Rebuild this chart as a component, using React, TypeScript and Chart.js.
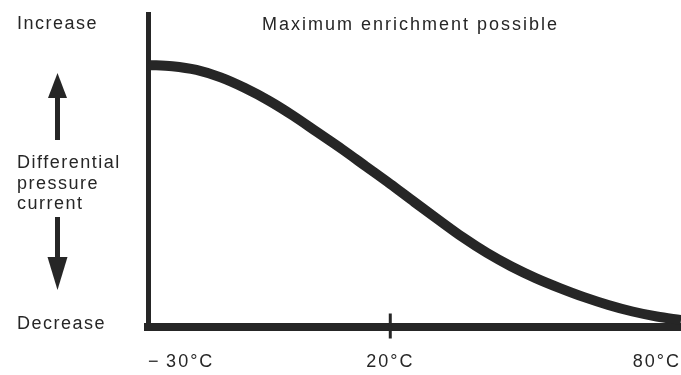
import React, { useEffect, useRef } from 'react';
import { Chart, registerables } from 'chart.js';

Chart.register(...registerables);

// ---- data ----
const temperatures = [-30, -25, -20, -15, -10, -5, 0, 5, 10, 15, 20, 25, 30, 35, 40, 45, 50, 55, 60, 65, 70, 75, 80];
const pressureCurrent = [83.7, 83.3, 82.1, 79.7, 76.3, 72.2, 67.4, 62.1, 56.8, 51.2, 45.6, 39.8, 34.1, 28.5, 23.5, 19.2, 15.5, 12.3, 9.4, 6.9, 4.8, 3.2, 2.1];
const tickValues = [-30, 20, 80];
const tickLabels = ['\u2212\u200930°C', '20°C', '80°C'];
const markedTicks = [20];
const titleText = 'Maximum enrichment possible';
const topLabel = 'Increase';
const middleLabel = ['Differential', 'pressure', 'current'];
const bottomLabel = 'Decrease';

const INK = '#262626';
const FONT = '"Liberation Sans", Arial, Helvetica, sans-serif';

function drawArrow(ctx: CanvasRenderingContext2D, cx: number, tail: number, base: number, tip: number, headW: number, shaftW: number) {
  ctx.lineWidth = shaftW;
  ctx.lineCap = 'butt';
  ctx.beginPath();
  ctx.moveTo(cx, tail);
  ctx.lineTo(cx, base);
  ctx.stroke();
  ctx.beginPath();
  ctx.moveTo(cx - headW / 2, base);
  ctx.lineTo(cx + headW / 2, base);
  ctx.lineTo(cx, tip);
  ctx.closePath();
  ctx.fill();
}

const diagramPlugin = {
  id: 'diagram',
  beforeDraw(chart: any) {
    chart.ctx.letterSpacing = '2px';
  },
  afterDraw(chart: any) {
    const { ctx, scales, chartArea } = chart;
    const x = scales.x;
    ctx.save();
    ctx.fillStyle = INK;
    ctx.strokeStyle = INK;
    ctx.lineWidth = 3;
    markedTicks.forEach((v) => {
      const px = x.getPixelForValue(v);
      ctx.beginPath();
      ctx.moveTo(px, chartArea.bottom - 13);
      ctx.lineTo(px, chartArea.bottom + 12);
      ctx.stroke();
    });
    ctx.font = `18px ${FONT}`;
    ctx.textBaseline = 'alphabetic';
    ctx.textAlign = 'left';
    ctx.letterSpacing = '2px';
    ctx.fillText(titleText, 262, 30);
    ctx.letterSpacing = '1.5px';
    ctx.fillText(topLabel, 17, 29);
    middleLabel.forEach((t, i) => ctx.fillText(t, 17, 168 + i * 20.5));
    ctx.fillText(bottomLabel, 17, 329);
    drawArrow(ctx, 57.5, 140, 98, 73, 19, 5);
    drawArrow(ctx, 57.5, 217, 257, 290, 20, 5);
    ctx.restore();
  },
};

export default function App() {
  const canvasRef = useRef<HTMLCanvasElement | null>(null);

  useEffect(() => {
    if (!canvasRef.current) return;
    const chart = new Chart(canvasRef.current, {
      type: 'line',
      data: {
        datasets: [
          {
            data: temperatures.map((t, i) => ({ x: t, y: pressureCurrent[i] })),
            borderColor: INK,
            borderWidth: 10,
            pointRadius: 0,
            cubicInterpolationMode: 'monotone',
            borderCapStyle: 'butt',
            fill: false,
          },
        ],
      },
      options: {
        animation: false,
        responsive: false,
        devicePixelRatio: 1,
        events: [],
        layout: { padding: { left: 148, top: 14, right: 0, bottom: 0 } },
        plugins: { legend: { display: false }, tooltip: { enabled: false }, title: { display: false } },
        scales: {
          x: {
            type: 'linear',
            min: -30,
            max: 80,
            afterBuildTicks: (s: any) => {
              s.ticks = tickValues.map((v) => ({ value: v }));
            },
            afterFit: (s: any) => {
              s.height = 48.5;
              s.paddingLeft = 0;
              s.paddingRight = 0;
              s.paddingTop = 0;
              s.paddingBottom = 0;
            },
            ticks: {
              callback: (v: any) => tickLabels[tickValues.indexOf(Number(v))] ?? '',
              align: 'inner',
              padding: 25,
              color: INK,
              font: { family: FONT, size: 18 },
              minRotation: 0,
              maxRotation: 0,
              autoSkip: false,
            },
            grid: { display: false, drawTicks: false },
            border: { display: true, width: 8, color: INK },
          },
          y: {
            type: 'linear',
            min: 0,
            max: 100,
            afterFit: (s: any) => {
              s.width = 0;
              s.paddingLeft = 0;
              s.paddingRight = 0;
              s.paddingTop = 0;
              s.paddingBottom = 0;
            },
            ticks: { display: false },
            grid: { display: false, drawTicks: false },
            border: { display: true, width: 5, color: INK },
          },
        },
      },
      plugins: [diagramPlugin],
    } as any);
    return () => chart.destroy();
  }, []);

  return (
    <div style={{ position: 'absolute', left: 0, top: 0, width: 681, height: 375, background: '#fff' }}>
      <canvas ref={canvasRef} width={681} height={375} style={{ display: 'block' }} />
    </div>
  );
}
